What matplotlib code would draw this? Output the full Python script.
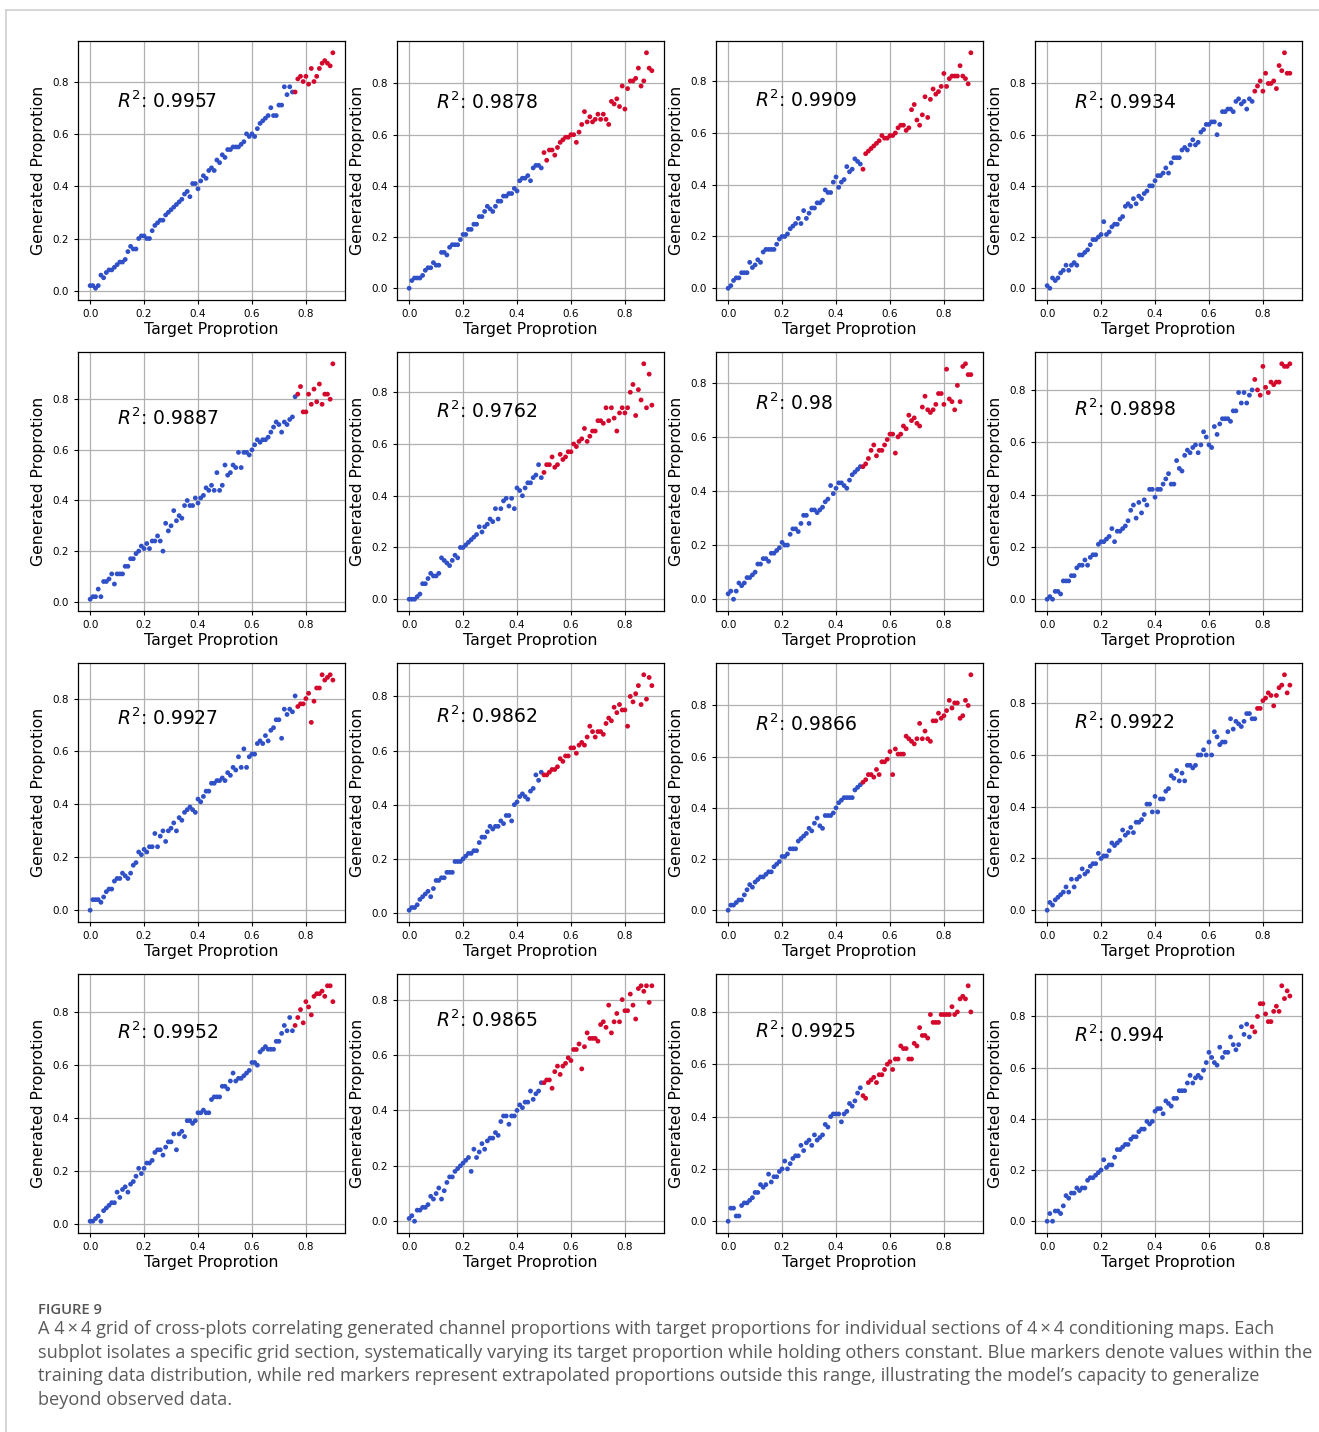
import matplotlib.pyplot as plt
import numpy as np
from matplotlib.lines import Line2D

# ====== DATA ====== #
# target proportions shared by all 16 sections
target = [0.00, 0.01, 0.02, 0.03, 0.04, 0.05, 0.06, 0.07, 0.08, 0.09,
          0.10, 0.11, 0.12, 0.13, 0.14, 0.15, 0.16, 0.17, 0.18, 0.19,
          0.20, 0.21, 0.22, 0.23, 0.24, 0.25, 0.26, 0.27, 0.28, 0.29,
          0.30, 0.31, 0.32, 0.33, 0.34, 0.35, 0.36, 0.37, 0.38, 0.39,
          0.40, 0.41, 0.42, 0.43, 0.44, 0.45, 0.46, 0.47, 0.48, 0.49,
          0.50, 0.51, 0.52, 0.53, 0.54, 0.55, 0.56, 0.57, 0.58, 0.59,
          0.60, 0.61, 0.62, 0.63, 0.64, 0.65, 0.66, 0.67, 0.68, 0.69,
          0.70, 0.71, 0.72, 0.73, 0.74, 0.75, 0.76, 0.77, 0.78, 0.79,
          0.80, 0.81, 0.82, 0.83, 0.84, 0.85, 0.86, 0.87, 0.88, 0.89,
          0.90]

gen_1 = [0.02, 0.02, 0.01, 0.02, 0.06, 0.05, 0.07, 0.08, 0.08, 0.09,
         0.10, 0.11, 0.11, 0.12, 0.15, 0.17, 0.16, 0.16, 0.20, 0.21,
         0.21, 0.20, 0.20, 0.23, 0.25, 0.26, 0.27, 0.27, 0.29, 0.30,
         0.31, 0.32, 0.33, 0.34, 0.35, 0.37, 0.38, 0.36, 0.41, 0.41,
         0.39, 0.42, 0.44, 0.43, 0.46, 0.47, 0.46, 0.50, 0.49, 0.52,
         0.51, 0.54, 0.54, 0.55, 0.55, 0.55, 0.56, 0.57, 0.60, 0.59,
         0.60, 0.59, 0.62, 0.64, 0.65, 0.66, 0.67, 0.70, 0.67, 0.67,
         0.71, 0.71, 0.78, 0.75, 0.78, 0.76, 0.76, 0.81, 0.82, 0.80,
         0.82, 0.79, 0.85, 0.80, 0.82, 0.85, 0.87, 0.88, 0.87, 0.86,
         0.91]
gen_2 = [0.00, 0.03, 0.04, 0.04, 0.04, 0.05, 0.07, 0.08, 0.08, 0.10,
         0.09, 0.09, 0.14, 0.14, 0.13, 0.16, 0.17, 0.17, 0.17, 0.19,
         0.21, 0.21, 0.23, 0.23, 0.25, 0.25, 0.28, 0.28, 0.30, 0.32,
         0.31, 0.30, 0.32, 0.34, 0.34, 0.36, 0.36, 0.37, 0.37, 0.39,
         0.38, 0.42, 0.43, 0.43, 0.44, 0.42, 0.47, 0.48, 0.48, 0.47,
         0.53, 0.50, 0.54, 0.54, 0.52, 0.55, 0.57, 0.58, 0.59, 0.59,
         0.60, 0.60, 0.57, 0.61, 0.64, 0.69, 0.65, 0.67, 0.65, 0.66,
         0.68, 0.66, 0.68, 0.66, 0.64, 0.73, 0.72, 0.74, 0.71, 0.79,
         0.70, 0.78, 0.81, 0.81, 0.82, 0.86, 0.79, 0.81, 0.92, 0.86,
         0.85]
gen_3 = [0.00, 0.01, 0.03, 0.04, 0.04, 0.06, 0.06, 0.06, 0.10, 0.08,
         0.09, 0.11, 0.10, 0.14, 0.15, 0.15, 0.15, 0.15, 0.17, 0.19,
         0.20, 0.20, 0.21, 0.23, 0.24, 0.25, 0.27, 0.25, 0.30, 0.27,
         0.29, 0.31, 0.31, 0.33, 0.33, 0.34, 0.38, 0.37, 0.37, 0.41,
         0.43, 0.39, 0.41, 0.42, 0.47, 0.45, 0.46, 0.50, 0.49, 0.48,
         0.46, 0.52, 0.53, 0.54, 0.55, 0.56, 0.57, 0.59, 0.58, 0.58,
         0.59, 0.59, 0.60, 0.62, 0.63, 0.63, 0.61, 0.62, 0.69, 0.71,
         0.65, 0.63, 0.67, 0.74, 0.66, 0.73, 0.77, 0.75, 0.76, 0.78,
         0.83, 0.78, 0.81, 0.82, 0.82, 0.82, 0.86, 0.82, 0.81, 0.79,
         0.91]
gen_4 = [0.01, 0.00, 0.04, 0.03, 0.04, 0.06, 0.07, 0.09, 0.07, 0.09,
         0.10, 0.09, 0.13, 0.13, 0.14, 0.15, 0.17, 0.19, 0.19, 0.20,
         0.21, 0.26, 0.21, 0.22, 0.24, 0.25, 0.25, 0.27, 0.28, 0.32,
         0.33, 0.32, 0.35, 0.33, 0.36, 0.35, 0.37, 0.38, 0.40, 0.40,
         0.42, 0.44, 0.44, 0.45, 0.47, 0.45, 0.49, 0.51, 0.51, 0.51,
         0.54, 0.55, 0.54, 0.56, 0.58, 0.56, 0.57, 0.61, 0.62, 0.64,
         0.64, 0.65, 0.65, 0.60, 0.64, 0.69, 0.69, 0.70, 0.70, 0.69,
         0.73, 0.74, 0.72, 0.73, 0.70, 0.74, 0.73, 0.77, 0.79, 0.81,
         0.77, 0.84, 0.80, 0.80, 0.81, 0.78, 0.87, 0.85, 0.92, 0.84,
         0.84]
gen_5 = [0.01, 0.02, 0.02, 0.05, 0.02, 0.08, 0.08, 0.09, 0.11, 0.07,
         0.11, 0.11, 0.11, 0.14, 0.14, 0.17, 0.17, 0.19, 0.20, 0.22,
         0.21, 0.23, 0.21, 0.24, 0.24, 0.26, 0.24, 0.20, 0.31, 0.28,
         0.30, 0.36, 0.32, 0.34, 0.33, 0.38, 0.40, 0.38, 0.38, 0.41,
         0.39, 0.41, 0.42, 0.45, 0.44, 0.46, 0.44, 0.51, 0.44, 0.46,
         0.54, 0.50, 0.51, 0.54, 0.53, 0.59, 0.53, 0.59, 0.59, 0.58,
         0.60, 0.62, 0.64, 0.63, 0.64, 0.64, 0.65, 0.67, 0.69, 0.71,
         0.70, 0.67, 0.71, 0.70, 0.72, 0.73, 0.81, 0.82, 0.85, 0.75,
         0.75, 0.82, 0.78, 0.84, 0.79, 0.86, 0.78, 0.82, 0.82, 0.80,
         0.94]
gen_6 = [0.00, 0.00, 0.00, 0.01, 0.02, 0.06, 0.06, 0.08, 0.10, 0.09,
         0.09, 0.10, 0.16, 0.15, 0.14, 0.13, 0.15, 0.17, 0.16, 0.20,
         0.20, 0.21, 0.22, 0.23, 0.24, 0.25, 0.28, 0.26, 0.28, 0.29,
         0.31, 0.30, 0.35, 0.31, 0.35, 0.38, 0.39, 0.36, 0.39, 0.35,
         0.43, 0.42, 0.40, 0.43, 0.45, 0.45, 0.47, 0.48, 0.52, 0.47,
         0.49, 0.52, 0.52, 0.55, 0.51, 0.52, 0.56, 0.54, 0.55, 0.57,
         0.57, 0.60, 0.59, 0.61, 0.62, 0.66, 0.61, 0.63, 0.65, 0.65,
         0.69, 0.69, 0.68, 0.74, 0.69, 0.74, 0.70, 0.65, 0.72, 0.74,
         0.72, 0.74, 0.80, 0.83, 0.71, 0.81, 0.77, 0.91, 0.74, 0.87,
         0.75]
gen_7 = [0.02, 0.03, 0.00, 0.03, 0.06, 0.05, 0.06, 0.08, 0.08, 0.09,
         0.10, 0.13, 0.13, 0.15, 0.15, 0.14, 0.17, 0.17, 0.18, 0.19,
         0.21, 0.20, 0.20, 0.24, 0.26, 0.26, 0.25, 0.28, 0.31, 0.31,
         0.28, 0.33, 0.33, 0.32, 0.33, 0.34, 0.36, 0.37, 0.42, 0.39,
         0.41, 0.43, 0.43, 0.42, 0.41, 0.44, 0.46, 0.47, 0.48, 0.49,
         0.49, 0.50, 0.52, 0.55, 0.57, 0.53, 0.55, 0.55, 0.57, 0.59,
         0.61, 0.61, 0.54, 0.60, 0.61, 0.64, 0.63, 0.68, 0.66, 0.67,
         0.65, 0.64, 0.71, 0.75, 0.70, 0.69, 0.70, 0.72, 0.76, 0.76,
         0.72, 0.85, 0.74, 0.73, 0.70, 0.79, 0.73, 0.86, 0.87, 0.83,
         0.83]
gen_8 = [0.00, 0.01, 0.00, 0.03, 0.03, 0.02, 0.07, 0.07, 0.07, 0.09,
         0.09, 0.12, 0.13, 0.13, 0.15, 0.13, 0.16, 0.17, 0.17, 0.21,
         0.22, 0.22, 0.23, 0.24, 0.27, 0.22, 0.26, 0.26, 0.27, 0.28,
         0.30, 0.34, 0.36, 0.31, 0.37, 0.33, 0.38, 0.36, 0.42, 0.42,
         0.39, 0.42, 0.42, 0.44, 0.46, 0.48, 0.44, 0.44, 0.53, 0.50,
         0.49, 0.55, 0.57, 0.56, 0.58, 0.59, 0.56, 0.59, 0.64, 0.62,
         0.59, 0.58, 0.66, 0.63, 0.67, 0.69, 0.69, 0.69, 0.68, 0.72,
         0.72, 0.79, 0.75, 0.79, 0.75, 0.78, 0.80, 0.84, 0.80, 0.78,
         0.89, 0.81, 0.79, 0.83, 0.82, 0.83, 0.83, 0.90, 0.89, 0.89,
         0.90]
gen_9 = [0.00, 0.04, 0.04, 0.04, 0.03, 0.05, 0.07, 0.08, 0.08, 0.11,
         0.12, 0.12, 0.14, 0.13, 0.12, 0.14, 0.17, 0.18, 0.22, 0.21,
         0.23, 0.22, 0.24, 0.24, 0.29, 0.24, 0.28, 0.30, 0.26, 0.30,
         0.31, 0.33, 0.30, 0.35, 0.34, 0.37, 0.38, 0.39, 0.38, 0.37,
         0.42, 0.41, 0.43, 0.45, 0.45, 0.48, 0.48, 0.49, 0.49, 0.50,
         0.49, 0.52, 0.51, 0.54, 0.53, 0.58, 0.54, 0.61, 0.54, 0.58,
         0.59, 0.59, 0.63, 0.64, 0.63, 0.66, 0.64, 0.68, 0.69, 0.72,
         0.72, 0.65, 0.76, 0.74, 0.76, 0.75, 0.81, 0.77, 0.78, 0.78,
         0.80, 0.82, 0.71, 0.79, 0.84, 0.84, 0.89, 0.87, 0.88, 0.89,
         0.87]
gen_10 = [0.01, 0.02, 0.02, 0.03, 0.05, 0.06, 0.07, 0.08, 0.06, 0.09,
          0.12, 0.12, 0.13, 0.13, 0.15, 0.15, 0.15, 0.19, 0.19, 0.19,
          0.20, 0.21, 0.22, 0.22, 0.23, 0.23, 0.26, 0.28, 0.28, 0.30,
          0.32, 0.31, 0.32, 0.32, 0.34, 0.33, 0.36, 0.36, 0.34, 0.40,
          0.41, 0.43, 0.44, 0.43, 0.42, 0.45, 0.46, 0.51, 0.49, 0.52,
          0.51, 0.51, 0.52, 0.53, 0.53, 0.54, 0.57, 0.56, 0.58, 0.58,
          0.61, 0.61, 0.59, 0.62, 0.63, 0.62, 0.65, 0.69, 0.67, 0.65,
          0.67, 0.67, 0.66, 0.70, 0.72, 0.71, 0.76, 0.74, 0.77, 0.75,
          0.75, 0.69, 0.80, 0.78, 0.81, 0.84, 0.77, 0.88, 0.79, 0.87,
          0.84]
gen_11 = [0.00, 0.02, 0.02, 0.03, 0.04, 0.04, 0.06, 0.08, 0.10, 0.09,
          0.11, 0.12, 0.13, 0.13, 0.14, 0.15, 0.15, 0.17, 0.18, 0.19,
          0.21, 0.21, 0.22, 0.24, 0.24, 0.24, 0.27, 0.28, 0.29, 0.30,
          0.32, 0.31, 0.34, 0.36, 0.33, 0.32, 0.37, 0.37, 0.37, 0.38,
          0.40, 0.42, 0.43, 0.44, 0.44, 0.44, 0.44, 0.47, 0.48, 0.49,
          0.50, 0.51, 0.53, 0.53, 0.52, 0.55, 0.53, 0.58, 0.58, 0.59,
          0.62, 0.53, 0.63, 0.61, 0.61, 0.61, 0.68, 0.67, 0.66, 0.65,
          0.67, 0.73, 0.67, 0.70, 0.67, 0.66, 0.74, 0.74, 0.77, 0.75,
          0.76, 0.78, 0.82, 0.79, 0.81, 0.81, 0.75, 0.76, 0.82, 0.80,
          0.92]
gen_12 = [0.00, 0.03, 0.02, 0.04, 0.05, 0.06, 0.07, 0.09, 0.07, 0.12,
          0.09, 0.12, 0.13, 0.16, 0.14, 0.15, 0.17, 0.18, 0.18, 0.22,
          0.20, 0.21, 0.21, 0.23, 0.26, 0.25, 0.26, 0.27, 0.31, 0.29,
          0.30, 0.32, 0.30, 0.34, 0.34, 0.35, 0.37, 0.41, 0.41, 0.38,
          0.44, 0.38, 0.43, 0.43, 0.46, 0.47, 0.52, 0.51, 0.54, 0.50,
          0.53, 0.50, 0.56, 0.56, 0.55, 0.56, 0.60, 0.60, 0.62, 0.60,
          0.65, 0.60, 0.69, 0.67, 0.64, 0.65, 0.65, 0.69, 0.74, 0.70,
          0.73, 0.72, 0.71, 0.73, 0.76, 0.76, 0.74, 0.74, 0.78, 0.78,
          0.81, 0.82, 0.84, 0.83, 0.79, 0.83, 0.86, 0.87, 0.91, 0.84,
          0.87]
gen_13 = [0.01, 0.01, 0.02, 0.03, 0.01, 0.05, 0.06, 0.07, 0.08, 0.08,
          0.12, 0.10, 0.13, 0.14, 0.12, 0.15, 0.16, 0.18, 0.21, 0.19,
          0.21, 0.23, 0.23, 0.24, 0.27, 0.28, 0.28, 0.26, 0.29, 0.31,
          0.31, 0.34, 0.28, 0.34, 0.35, 0.33, 0.39, 0.39, 0.38, 0.39,
          0.42, 0.42, 0.43, 0.42, 0.42, 0.47, 0.48, 0.48, 0.48, 0.52,
          0.52, 0.51, 0.54, 0.57, 0.54, 0.55, 0.55, 0.56, 0.57, 0.58,
          0.61, 0.61, 0.60, 0.65, 0.66, 0.67, 0.66, 0.66, 0.66, 0.69,
          0.69, 0.72, 0.75, 0.73, 0.78, 0.73, 0.75, 0.78, 0.81, 0.76,
          0.84, 0.82, 0.79, 0.86, 0.87, 0.87, 0.88, 0.86, 0.90, 0.90,
          0.84]
gen_14 = [0.01, 0.02, 0.00, 0.04, 0.04, 0.05, 0.05, 0.06, 0.09, 0.08,
          0.10, 0.12, 0.08, 0.11, 0.14, 0.16, 0.16, 0.18, 0.19, 0.20,
          0.21, 0.22, 0.23, 0.18, 0.26, 0.23, 0.25, 0.28, 0.26, 0.29,
          0.30, 0.30, 0.32, 0.31, 0.36, 0.38, 0.38, 0.35, 0.38, 0.38,
          0.40, 0.42, 0.41, 0.43, 0.43, 0.47, 0.44, 0.46, 0.47, 0.50,
          0.50, 0.51, 0.51, 0.48, 0.54, 0.56, 0.53, 0.56, 0.57, 0.59,
          0.58, 0.62, 0.62, 0.64, 0.55, 0.63, 0.68, 0.66, 0.66, 0.66,
          0.65, 0.71, 0.72, 0.70, 0.78, 0.68, 0.72, 0.75, 0.72, 0.80,
          0.76, 0.76, 0.82, 0.78, 0.73, 0.84, 0.85, 0.83, 0.85, 0.79,
          0.85]
gen_15 = [0.00, 0.05, 0.05, 0.02, 0.02, 0.06, 0.07, 0.07, 0.08, 0.09,
          0.11, 0.11, 0.14, 0.13, 0.14, 0.18, 0.15, 0.17, 0.17, 0.19,
          0.20, 0.23, 0.20, 0.22, 0.24, 0.25, 0.25, 0.29, 0.27, 0.30,
          0.31, 0.29, 0.33, 0.31, 0.32, 0.33, 0.37, 0.36, 0.40, 0.41,
          0.41, 0.41, 0.38, 0.41, 0.42, 0.45, 0.44, 0.46, 0.49, 0.51,
          0.48, 0.47, 0.53, 0.54, 0.55, 0.53, 0.56, 0.56, 0.58, 0.60,
          0.61, 0.58, 0.62, 0.62, 0.67, 0.66, 0.66, 0.62, 0.62, 0.68,
          0.67, 0.74, 0.71, 0.71, 0.70, 0.79, 0.76, 0.76, 0.76, 0.79,
          0.79, 0.79, 0.79, 0.82, 0.79, 0.80, 0.85, 0.86, 0.85, 0.90,
          0.80]
gen_16 = [0.00, 0.03, 0.00, 0.04, 0.04, 0.03, 0.06, 0.10, 0.09, 0.11,
          0.11, 0.13, 0.12, 0.13, 0.13, 0.16, 0.17, 0.17, 0.18, 0.19,
          0.20, 0.24, 0.21, 0.22, 0.22, 0.25, 0.28, 0.28, 0.29, 0.30,
          0.30, 0.32, 0.33, 0.33, 0.35, 0.36, 0.36, 0.39, 0.38, 0.39,
          0.43, 0.44, 0.44, 0.42, 0.47, 0.46, 0.45, 0.48, 0.48, 0.51,
          0.51, 0.51, 0.54, 0.57, 0.54, 0.56, 0.57, 0.56, 0.59, 0.62,
          0.66, 0.64, 0.62, 0.61, 0.68, 0.64, 0.66, 0.66, 0.72, 0.69,
          0.67, 0.69, 0.76, 0.73, 0.77, 0.72, 0.76, 0.74, 0.80, 0.85,
          0.85, 0.81, 0.78, 0.78, 0.82, 0.84, 0.82, 0.92, 0.87, 0.90,
          0.88]

generated = [gen_1, gen_2, gen_3, gen_4, gen_5, gen_6, gen_7, gen_8,
             gen_9, gen_10, gen_11, gen_12, gen_13, gen_14, gen_15, gen_16]

# targets at or above this value are extrapolated (red)
extrap_start = [0.76, 0.50, 0.50, 0.77,
                0.77, 0.50, 0.50, 0.77,
                0.77, 0.50, 0.50, 0.78,
                0.76, 0.50, 0.50, 0.76]

r2_scores = ['0.9957', '0.9878', '0.9909', '0.9934',
             '0.9887', '0.9762', '0.98', '0.9898',
             '0.9927', '0.9862', '0.9866', '0.9922',
             '0.9952', '0.9865', '0.9925', '0.994']

caption_lines = [
    "A 4\u2009×\u20094 grid of cross-plots correlating generated channel proportions with target proportions for individual sections of 4\u2009×\u20094 conditioning maps. Each",
    "subplot isolates a specific grid section, systematically varying its target proportion while holding others constant. Blue markers denote values within the",
    "training data distribution, while red markers represent extrapolated proportions outside this range, illustrating the model\u2019s capacity to generalize",
    "beyond observed data.",
]

BLUE = '#3050c8'
RED = '#d4072c'

W, H = 1319, 1432
fig = plt.figure(figsize=(W / 100, H / 100), dpi=100)

# page frame lines
fig.add_artist(Line2D([6 / W, 1], [1 - 10 / H, 1 - 10 / H], color='#cfcfcf', lw=1.2))
fig.add_artist(Line2D([6 / W, 6 / W], [0, 1 - 10 / H], color='#cfcfcf', lw=1.2))

col_left = [78, 397, 716, 1035]
row_top = [41, 352, 663, 974]
ax_w, ax_h = 267, 259

x = np.array(target)
for k, gen in enumerate(generated):
    r, c = divmod(k, 4)
    ax = fig.add_axes([col_left[c] / W, 1 - (row_top[r] + ax_h) / H, ax_w / W, ax_h / H])
    y = np.array(gen)
    colors = [RED if t >= extrap_start[k] - 1e-9 else BLUE for t in x]
    ax.scatter(x, y, c=colors, s=12, linewidths=0, zorder=3)
    ax.grid(True, color='#b0b0b0', lw=0.9)
    ax.set_axisbelow(True)
    ax.set_xticks([0.0, 0.2, 0.4, 0.6, 0.8])
    ax.set_yticks([0.0, 0.2, 0.4, 0.6, 0.8])
    ax.tick_params(labelsize=7.5, length=3, width=0.8)
    ax.set_xlabel('Target Proprotion', fontsize=11.3, labelpad=2)
    ax.set_ylabel('Generated Proprotion', fontsize=11.3, labelpad=5)
    ax.text(0.1, 0.7, r'$R^2$: ' + r2_scores[k], fontsize=13.5)
    for sp in ax.spines.values():
        sp.set_linewidth(0.9)

# caption
fig.text(38 / W, 1 - 1310 / H, 'FIGURE 9', fontsize=10.6, color='#555555',
         family=['Open Sans', 'DejaVu Sans'], weight='semibold', va='center')
for i, line in enumerate(caption_lines):
    fig.text(38 / W, 1 - (1329 + 23.7 * i) / H, line, fontsize=13.1, color='#5a5a5a',
             family=['Open Sans', 'DejaVu Sans'], va='center')

fig.savefig('out.png', dpi=100)
